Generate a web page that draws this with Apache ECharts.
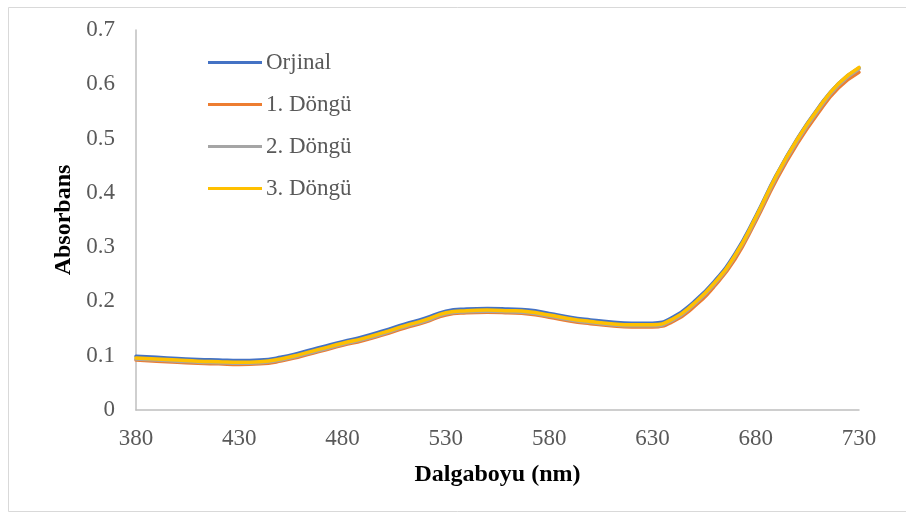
<!DOCTYPE html>
<html>
<head>
<meta charset="utf-8">
<script src="https://cdn.jsdelivr.net/npm/echarts@6/dist/echarts.min.js"></script>
<style>
  html, body { margin: 0; padding: 0; background: #ffffff; }
  #chart { width: 906px; height: 513px; }
</style>
</head>
<body>
<div id="chart"></div>
<script>
// Wavelengths (nm), sampled every 10 nm
const wavelengths = [380, 390, 400, 410, 420, 430, 440, 450, 460, 470,
  480, 490, 500, 510, 520, 530, 540, 550, 560, 570,
  580, 590, 600, 610, 620, 630, 640, 650, 660, 670,
  680, 690, 700, 710, 720, 730];

// Absorbance spectra
const orjinal = [0.099, 0.097, 0.095, 0.093, 0.092, 0.091, 0.092, 0.097, 0.106, 0.116,
  0.126, 0.135, 0.146, 0.158, 0.169, 0.182, 0.186, 0.187, 0.186, 0.184,
  0.178, 0.171, 0.166, 0.162, 0.160, 0.160, 0.171, 0.199, 0.237, 0.288,
  0.357, 0.433, 0.499, 0.555, 0.601, 0.630];

const dongu1 = [0.092, 0.090, 0.088, 0.086, 0.085, 0.084, 0.085, 0.090, 0.099, 0.109,
  0.119, 0.128, 0.139, 0.151, 0.162, 0.175, 0.179, 0.180, 0.179, 0.177,
  0.171, 0.164, 0.159, 0.155, 0.153, 0.153, 0.163, 0.190, 0.228, 0.278,
  0.348, 0.424, 0.490, 0.546, 0.593, 0.622];

const dongu2 = [0.094, 0.092, 0.090, 0.088, 0.087, 0.086, 0.087, 0.092, 0.101, 0.111,
  0.121, 0.130, 0.141, 0.153, 0.164, 0.177, 0.181, 0.182, 0.181, 0.179,
  0.173, 0.166, 0.161, 0.157, 0.155, 0.155, 0.166, 0.194, 0.232, 0.283,
  0.352, 0.429, 0.495, 0.551, 0.598, 0.628];

const dongu3 = [0.096, 0.094, 0.092, 0.090, 0.089, 0.088, 0.089, 0.094, 0.103, 0.113,
  0.123, 0.132, 0.143, 0.155, 0.166, 0.179, 0.183, 0.184, 0.183, 0.181,
  0.175, 0.168, 0.163, 0.159, 0.157, 0.157, 0.168, 0.196, 0.234, 0.285,
  0.355, 0.432, 0.498, 0.554, 0.601, 0.631];

const yTicks = [0, 0.1, 0.2, 0.3, 0.4, 0.5, 0.6, 0.7];

const seriesNames = ['Orjinal', '1. Döngü', '2. Döngü', '3. Döngü'];
const seriesColors = ['#4472C4', '#ED7D31', '#A5A5A5', '#FFC000'];
const seriesData = [orjinal, dongu1, dongu2, dongu3];

const font = '"Liberation Serif", "Times New Roman", serif';
const textColor = '#595959';
const axisColor = '#BFBFBF';
const fontSize = 23;
const titleSize = 24;

const chart = echarts.init(document.getElementById('chart'));

chart.setOption({
  animation: false,
  backgroundColor: '#ffffff',
  textStyle: { fontFamily: font },
  graphic: [{
    type: 'rect',
    shape: { x: 8.5, y: 7.5, width: 900, height: 504 },
    style: { fill: 'none', stroke: '#D9D9D9', lineWidth: 1 },
    silent: true
  }],
  grid: { left: 136, right: 47, top: 30, bottom: 103 },
  legend: {
    orient: 'vertical',
    left: 208,
    top: 51,
    padding: 0,
    icon: 'rect',
    itemWidth: 54,
    itemHeight: 3,
    itemGap: 19,
    textStyle: { fontFamily: font, fontSize: fontSize, color: textColor, lineHeight: 23, padding: [0, 0, 0, -1] },
    data: seriesNames
  },
  xAxis: {
    type: 'category',
    data: wavelengths,
    boundaryGap: false,
    name: 'Dalgaboyu (nm)',
    nameLocation: 'middle',
    nameGap: 53,
    nameTextStyle: { fontFamily: font, fontSize: titleSize, fontWeight: 'bold', color: '#000000' },
    axisLine: { lineStyle: { color: axisColor, width: 1.5 } },
    axisTick: { show: false },
    axisLabel: { interval: 4, margin: 17, fontFamily: font, fontSize: fontSize, color: textColor },
    splitLine: { show: false }
  },
  yAxis: {
    type: 'value',
    min: yTicks[0],
    max: yTicks[yTicks.length - 1],
    interval: 0.1,
    name: 'Absorbans',
    nameLocation: 'middle',
    nameGap: 59,
    nameRotate: 90,
    nameTextStyle: { fontFamily: font, fontSize: titleSize, fontWeight: 'bold', color: '#000000' },
    axisLine: { show: true, lineStyle: { color: axisColor, width: 1.5 } },
    axisTick: { show: false },
    axisLabel: { margin: 21, fontFamily: font, fontSize: fontSize, color: textColor },
    splitLine: { show: false }
  },
  series: seriesNames.map((name, i) => ({
    name: name,
    type: 'line',
    data: seriesData[i],
    smooth: true,
    symbol: 'none',
    lineStyle: { color: seriesColors[i], width: 3.5, cap: 'round' },
    itemStyle: { color: seriesColors[i] }
  }))
});
</script>
</body>
</html>
